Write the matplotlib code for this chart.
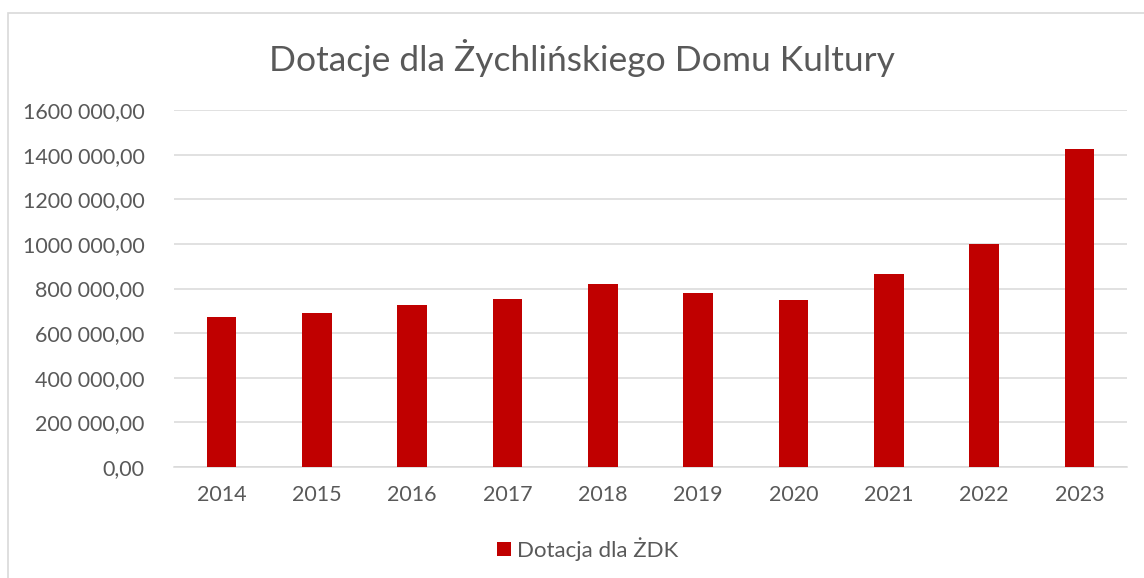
import matplotlib
matplotlib.use("Agg")
import matplotlib.pyplot as plt
from matplotlib.patches import Rectangle
from matplotlib.ticker import FuncFormatter

years = ["2014", "2015", "2016", "2017", "2018", "2019", "2020", "2021", "2022", "2023"]
values = [674000, 691000, 725000, 751000, 820000, 778000, 748000, 863000, 1000000, 1425000]
series_name = "Dotacja dla ŻDK"
title = "Dotacje dla Żychlińskiego Domu Kultury"
y_ticks = [0, 200000, 400000, 600000, 800000, 1000000, 1200000, 1400000, 1600000]

plt.rcParams['font.family'] = ['Lato', 'DejaVu Sans']
text_color = "#595959"
W, H = 1144, 578
fig = plt.figure(figsize=(W / 100, H / 100), dpi=100)

# chart area border
fig.patches.append(Rectangle((8 / W, -0.1), 1.2, (H - 13) / H + 0.1,
                             transform=fig.transFigure, fill=False,
                             edgecolor="#D9D9D9", linewidth=1.2))

ax = fig.add_axes([174 / W, (H - 467) / H, (1127 - 174) / W, (467 - 110) / H])
x = list(range(len(years)))
ax.bar(x, values, width=0.31, color="#C00000", label=series_name, zorder=3)
ax.set_xlim(-0.5, len(years) - 0.5)
ax.set_ylim(0, 1600000)
ax.set_yticks(y_ticks)

def fmt(v, pos):
    whole = int(round(v))
    if whole >= 1000:
        s = f"{whole // 1000} {whole % 1000:03d},00"
    else:
        s = f"{whole},00"
    return s

ax.yaxis.set_major_formatter(FuncFormatter(fmt))
ax.set_xticks(x)
ax.set_xticklabels(years)
ax.grid(axis="y", color="#D9D9D9", linewidth=1.1, zorder=0)
for s in ["top", "right", "left"]:
    ax.spines[s].set_visible(False)
ax.spines["bottom"].set_color("#D9D9D9")
ax.spines["bottom"].set_linewidth(1.1)
ax.tick_params(axis="both", length=0, colors=text_color, labelsize=15.5)
ax.tick_params(axis="y", pad=21)
ax.tick_params(axis="x", pad=13)

fig.text(582 / W, 1 - 58 / H, title, ha="center", va="center",
         fontsize=25.5, color=text_color)

fig.legend(loc="center", bbox_to_anchor=(588 / W, 1 - 549 / H), frameon=False,
           fontsize=16, labelcolor=text_color, handlelength=0.6,
           handleheight=0.6, handletextpad=0.3)

fig.savefig("out.png", dpi=100)
